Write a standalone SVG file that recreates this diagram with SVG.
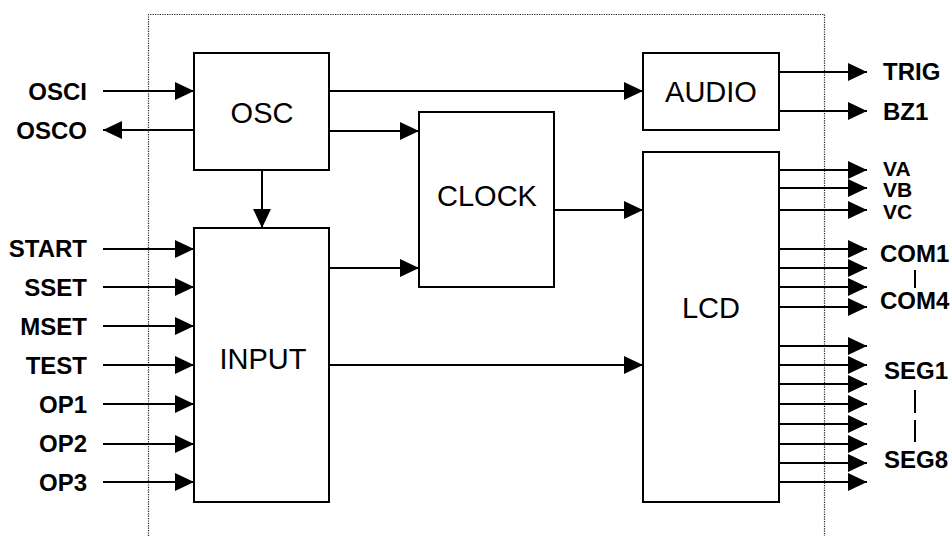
<svg xmlns="http://www.w3.org/2000/svg" width="950" height="536" viewBox="0 0 950 536">
<defs>
<style>
.box{fill:#fff;stroke:#000;stroke-width:2}
.ln{fill:none;stroke:#000;stroke-width:2}
.dot{fill:none;stroke:#222;stroke-width:1.2;stroke-dasharray:1.2 1.2}
.pin{font-family:"Liberation Sans",Arial,sans-serif;font-weight:bold;font-size:24px;fill:#000}
.sm{font-size:21px}
.lbl{font-family:"Liberation Sans",Arial,sans-serif;font-size:29px;fill:#000;text-anchor:middle}
.l{text-anchor:end}
</style>
<marker id="ah" markerWidth="19" markerHeight="18" viewBox="0 0 19 18" refX="19" refY="9" orient="auto" markerUnits="userSpaceOnUse">
<path d="M0,0 L19,9 L0,18 Z" fill="#000"/>
</marker>
</defs>
<rect width="950" height="536" fill="#fff"/>
<path class="dot" d="M148.5,536 V14.5 H824.5 V536"/>
<g id="connectors">
<path class="ln" d="M103,91 H194" marker-end="url(#ah)"/>
<path class="ln" d="M194,130 H103" marker-end="url(#ah)"/>
<path class="ln" d="M329,91 H643" marker-end="url(#ah)"/>
<path class="ln" d="M329,131 H419" marker-end="url(#ah)"/>
<path class="ln" d="M262,170 V228" marker-end="url(#ah)"/>
<path class="ln" d="M103,249 H194" marker-end="url(#ah)"/>
<path class="ln" d="M103,287 H194" marker-end="url(#ah)"/>
<path class="ln" d="M103,326 H194" marker-end="url(#ah)"/>
<path class="ln" d="M103,365 H194" marker-end="url(#ah)"/>
<path class="ln" d="M103,404 H194" marker-end="url(#ah)"/>
<path class="ln" d="M103,444 H194" marker-end="url(#ah)"/>
<path class="ln" d="M103,482 H194" marker-end="url(#ah)"/>
<path class="ln" d="M329,268 H419" marker-end="url(#ah)"/>
<path class="ln" d="M329,365 H643" marker-end="url(#ah)"/>
<path class="ln" d="M554,210 H643" marker-end="url(#ah)"/>
<path class="ln" d="M779,72 H867" marker-end="url(#ah)"/>
<path class="ln" d="M779,111 H867" marker-end="url(#ah)"/>
<path class="ln" d="M779,170 H867" marker-end="url(#ah)"/>
<path class="ln" d="M779,188 H867" marker-end="url(#ah)"/>
<path class="ln" d="M779,210 H867" marker-end="url(#ah)"/>
<path class="ln" d="M779,249 H867" marker-end="url(#ah)"/>
<path class="ln" d="M779,268 H867" marker-end="url(#ah)"/>
<path class="ln" d="M779,287 H867" marker-end="url(#ah)"/>
<path class="ln" d="M779,307 H867" marker-end="url(#ah)"/>
<path class="ln" d="M779,346 H867" marker-end="url(#ah)"/>
<path class="ln" d="M779,365 H867" marker-end="url(#ah)"/>
<path class="ln" d="M779,384 H867" marker-end="url(#ah)"/>
<path class="ln" d="M779,404 H867" marker-end="url(#ah)"/>
<path class="ln" d="M779,424 H867" marker-end="url(#ah)"/>
<path class="ln" d="M779,444 H867" marker-end="url(#ah)"/>
<path class="ln" d="M779,463 H867" marker-end="url(#ah)"/>
<path class="ln" d="M779,482 H867" marker-end="url(#ah)"/>
</g>
<g id="osc"><rect class="box" x="194" y="53" width="135" height="117"/><text class="lbl" x="262" y="123">OSC</text></g>
<g id="input"><rect class="box" x="194" y="228" width="135" height="274"/><text class="lbl" x="263" y="369">INPUT</text></g>
<g id="clock"><rect class="box" x="419" y="112" width="135" height="175"/><text class="lbl" x="487" y="206">CLOCK</text></g>
<g id="audio"><rect class="box" x="643" y="53" width="136" height="77"/><text class="lbl" x="711" y="102">AUDIO</text></g>
<g id="lcd"><rect class="box" x="643" y="152" width="136" height="350"/><text class="lbl" x="711" y="318">LCD</text></g>
<g id="pins-left">
<text class="pin l" x="87" y="100">OSCI</text>
<text class="pin l" x="87" y="139">OSCO</text>
<text class="pin l" x="87" y="257">START</text>
<text class="pin l" x="87" y="296">SSET</text>
<text class="pin l" x="87" y="335">MSET</text>
<text class="pin l" x="87" y="374">TEST</text>
<text class="pin l" x="87" y="413">OP1</text>
<text class="pin l" x="87" y="452">OP2</text>
<text class="pin l" x="87" y="491">OP3</text>
</g>
<g id="pins-right">
<text class="pin" x="883" y="80">TRIG</text>
<text class="pin" x="883" y="120">BZ1</text>
<text class="pin sm" x="883" y="176">VA</text>
<text class="pin sm" x="883" y="197">VB</text>
<text class="pin sm" x="883" y="219">VC</text>
<text class="pin" x="880" y="262">COM1</text>
<text class="pin" x="880" y="309">COM4</text>
<text class="pin" x="884" y="379">SEG1</text>
<text class="pin" x="884" y="468">SEG8</text>
<path class="ln" d="M915,270 V288 M915,390 V413 M915,420 V442"/>
</g>
</svg>
